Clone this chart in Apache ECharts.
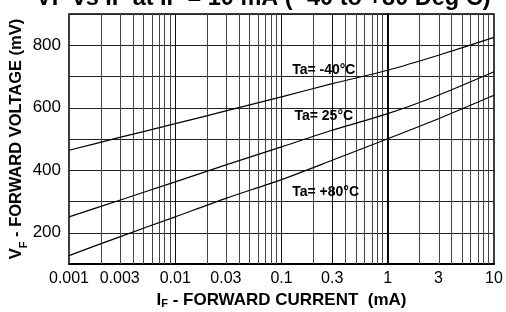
<!DOCTYPE html>
<html>
<head>
<meta charset="utf-8">
<script src="https://cdn.jsdelivr.net/npm/echarts@6/dist/echarts.min.js"></script>
<style>
html,body{margin:0;padding:0;background:#fff;}
#chart{width:506px;height:312px;}
</style>
</head>
<body>
<div id="chart"></div>
<script>
// forward current (mA) at which the curves were read
var current = [0.001, 0.003, 0.01, 0.03, 0.1, 0.3, 1, 3, 10];
// forward voltage (mV)
var vfMinus40 = [464, 505, 549, 590, 635, 677, 720, 768, 825];
var vf25 = [251, 304, 363, 417, 475, 528, 581, 640, 715];
var vf80 = [127, 187, 251, 310, 370, 432, 501, 565, 640];

var seriesNames = ['Ta= -40°C', 'Ta= 25°C', 'Ta= +80°C'];
// where each label sits (mA, mV)
var labelAt = [[0.25, 720], [0.25, 573], [0.26, 330]];

var xTickValues = [0.001, 0.003, 0.01, 0.03, 0.1, 0.3, 1, 3, 10];
var xTickLabels = ['0.001', '0.003', '0.01', '0.03', '0.1', '0.3', '1', '3', '10'];
var decades = [0.001, 0.01, 0.1, 1];
var darkLines = [0.01, 0.1, 0.3, 1];

var FONT = 'Arial, "Liberation Sans", sans-serif';

function lg(v){
	return Math.log10(v);
}

function toPairs(ys){
	var out = [];
	for(var i = 0; i < current.length; ++i){
		out.push([lg(current[i]), ys[i]]);
	}
	return out;
}

// vertical grid lines at 1..9 of every decade
var gridLines = [];
for(var d = 0; d < decades.length; ++d){
	for(var k = 1; k <= 9; ++k){
		var v = decades[d] * k;
		if(d == 0 && k == 1){
			continue;
		}
		var dark = false;
		for(var j = 0; j < darkLines.length; ++j){
			if(Math.abs(darkLines[j] - v) < 1e-9){
				dark = true;
			}
		}
		gridLines.push({
			xAxis : lg(v),
			lineStyle : {color : dark ? '#111' : '#444', width : 1, type : 'solid'}
		});
	}
}

var allCurves = [vfMinus40, vf25, vf80];
var series = [];
for(var i = 0; i < allCurves.length; ++i){
	var s = {
		name : seriesNames[i],
		type : 'line',
		data : toPairs(allCurves[i]),
		smooth : 0.25,
		symbol : 'none',
		lineStyle : {color : '#000', width : 1.2},
		z : 5,
		markPoint : {
			symbol : 'circle',
			symbolSize : 0,
			silent : true,
			label : {
				show : true,
				formatter : seriesNames[i],
				color : '#000',
				fontFamily : FONT,
				fontWeight : 'bold',
				fontSize : 14,
				position : 'inside'
			},
			data : [{coord : [lg(labelAt[i][0]), labelAt[i][1]]}]
		}
	};
	if(i == 0){
		s.markLine = {
			silent : true,
			symbol : 'none',
			animation : false,
			label : {show : false},
			z : 1,
			data : gridLines
		};
	}
	series.push(s);
}

var chart = echarts.init(document.getElementById('chart'));
chart.setOption({
	animation : false,
	backgroundColor : '#fff',
	grid : {
		left : 69, right : 12, top : 14, bottom : 48,
		outerBoundsMode : 'none',
		containLabel : false,
		show : true, borderColor : '#000', borderWidth : 1.5
	},
	graphic : [{
		type : 'text',
		left : 36,
		top : -13,
		style : {
			text : 'VF vs IF at IF = 10 mA ( -40 to +80 Deg C)',
			font : 'bold 23.5px ' + FONT,
			fill : '#000'
		}
	}],
	xAxis : {
		type : 'value',
		min : -3,
		max : 1,
		splitLine : {show : false},
		axisTick : {show : false},
		axisLine : {lineStyle : {color : '#000', width : 2}},
		axisLabel : {
			customValues : xTickValues.map(lg),
			color : '#000',
			fontFamily : FONT,
			fontSize : 16,
			margin : 7,
			formatter : function(v){
				for(var i = 0; i < xTickValues.length; ++i){
					if(Math.abs(lg(xTickValues[i]) - v) < 1e-6){
						return xTickLabels[i];
					}
				}
				return '';
			}
		},
		name : '{a|I}{b|F}{a| - FORWARD CURRENT  (mA)}',
		nameLocation : 'middle',
		nameGap : 28,
		nameMoveOverlap : false,
		nameTextStyle : {
			rich : {
				a : {fontFamily : FONT, fontWeight : 'bold', fontSize : 17, color : '#000'},
				b : {fontFamily : FONT, fontWeight : 'bold', fontSize : 11, color : '#000', verticalAlign : 'bottom'}
			}
		}
	},
	yAxis : {
		type : 'value',
		min : 100,
		max : 900,
		interval : 100,
		splitLine : {show : true, lineStyle : {color : '#222', width : 1}},
		axisTick : {show : true, inside : false, length : 7, lineStyle : {color : '#000'}},
		axisLine : {show : true, lineStyle : {color : '#000', width : 2}},
		axisLabel : {
			color : '#000',
			fontFamily : FONT,
			fontSize : 17,
			margin : 8,
			formatter : function(v){
				return (v % 200 == 0 && v < 900) ? String(v) : '';
			}
		},
		name : '{a|V}{b|F}{a| - FORWARD VOLTAGE (mV)}',
		nameLocation : 'middle',
		nameGap : 44,
		nameMoveOverlap : false,
		nameTextStyle : {
			rich : {
				a : {fontFamily : FONT, fontWeight : 'bold', fontSize : 16.5, color : '#000'},
				b : {fontFamily : FONT, fontWeight : 'bold', fontSize : 11, color : '#000', verticalAlign : 'bottom', padding : [0, 0, -4, 0]}
			}
		}
	},
	series : series
});
</script>
</body>
</html>
